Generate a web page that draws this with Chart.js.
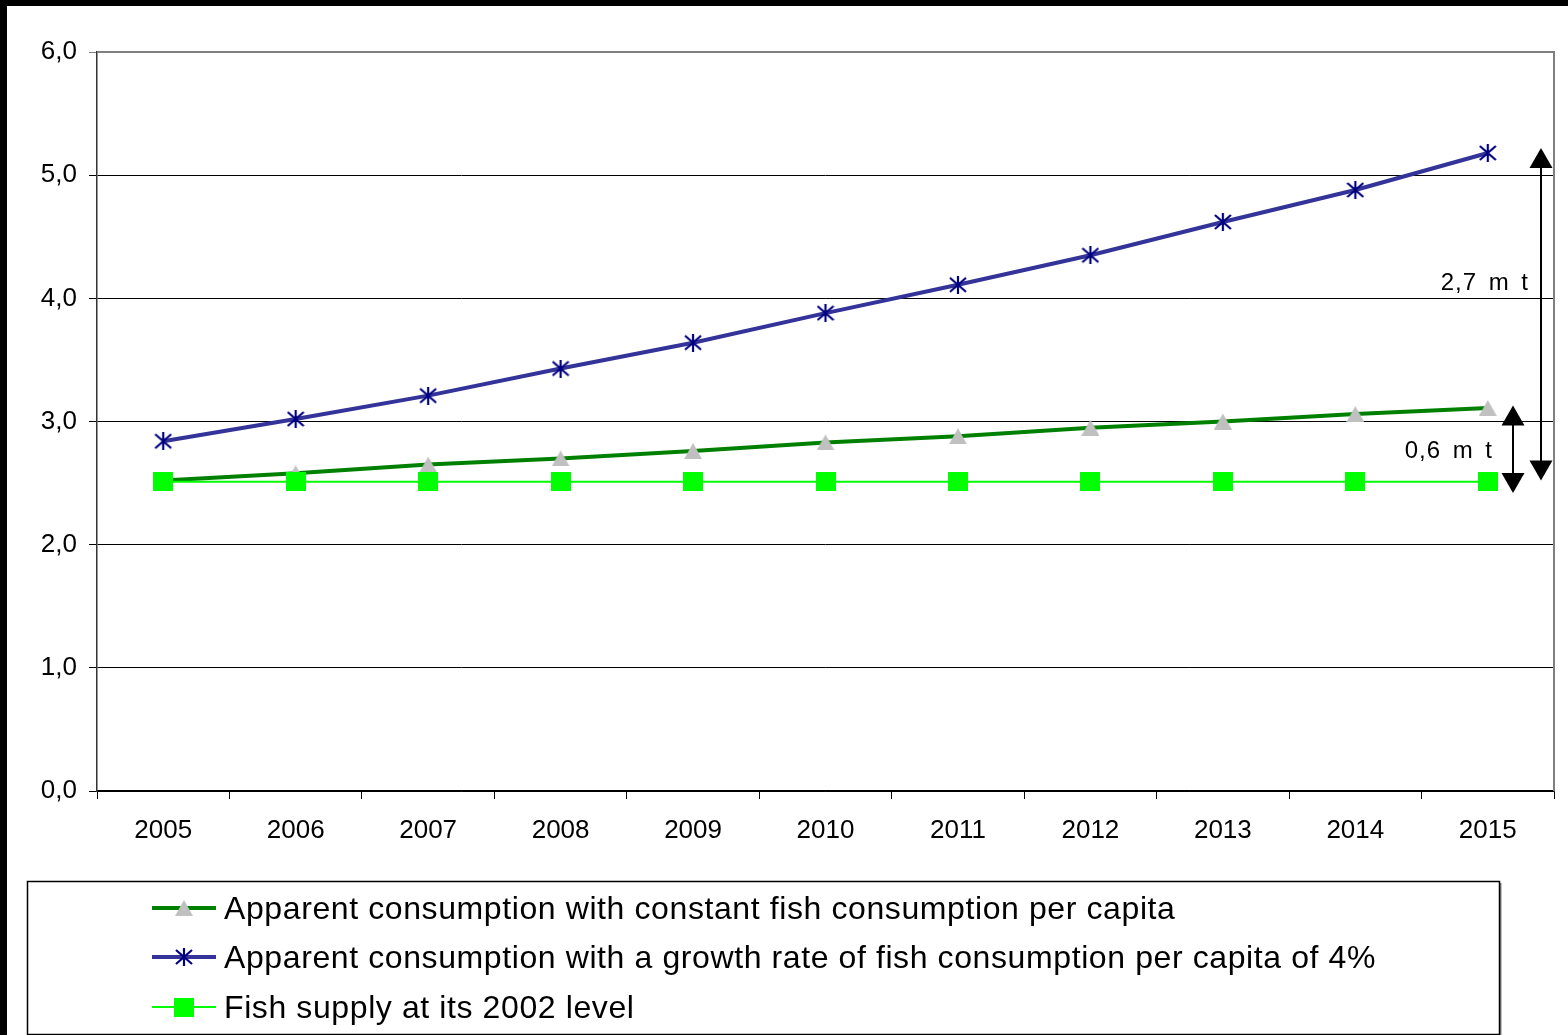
<!DOCTYPE html>
<html>
<head>
<meta charset="utf-8">
<script src="https://cdn.jsdelivr.net/npm/chart.js@4/dist/chart.umd.min.js"></script>
<style>
  html, body { margin: 0; padding: 0; background: #fff; }
  #wrap { width: 1568px; height: 1035px; box-sizing: border-box; border-left: 7px solid #000; border-top: 6px solid #000; background: #fff; overflow: hidden; }
  canvas { display: block; }
</style>
</head>
<body>
<div id="wrap"><canvas id="c" width="1561" height="1029"></canvas></div>
<script>
// ---- data ----
const years = ['2005','2006','2007','2008','2009','2010','2011','2012','2013','2014','2015'];
const constantPerCapita = [2.52, 2.58, 2.65, 2.70, 2.76, 2.83, 2.88, 2.95, 3.00, 3.06, 3.11];
const growth4pct = [2.84, 3.02, 3.21, 3.43, 3.64, 3.88, 4.11, 4.35, 4.62, 4.88, 5.18];
const supply2002 = [2.51, 2.51, 2.51, 2.51, 2.51, 2.51, 2.51, 2.51, 2.51, 2.51, 2.51];
const seriesLabels = [
  'Apparent consumption with constant fish consumption per capita',
  'Apparent consumption with a growth rate of fish consumption per capita of 4%',
  'Fish supply at its 2002 level'
];
const yTicks = [0, 1, 2, 3, 4, 5, 6];
// annotations: [label, top value, bottom value, label value]
const gapBig = ['2,7 m t', 5.22, 2.52, 4.12];
const gapSmall = ['0,6 m t', 3.13, 2.42, 2.76];

const FONT = '"Liberation Sans", Arial, sans-serif';

// ---- marker images ----
function makeTriangle() {
  const c = document.createElement('canvas'); c.width = 18; c.height = 16;
  const x = c.getContext('2d');
  x.fillStyle = '#C0C0C0';
  x.beginPath(); x.moveTo(9, 0); x.lineTo(18, 16); x.lineTo(0, 16); x.closePath(); x.fill();
  return c;
}
function makeAsterisk() {
  const c = document.createElement('canvas'); c.width = 18; c.height = 18;
  const x = c.getContext('2d');
  x.strokeStyle = '#000080'; x.lineWidth = 2.2;
  x.beginPath();
  x.moveTo(9, 0); x.lineTo(9, 18);
  x.moveTo(1, 2); x.lineTo(17, 16);
  x.moveTo(17, 2); x.lineTo(1, 16);
  x.stroke();
  return c;
}
function makeSquare() {
  const c = document.createElement('canvas'); c.width = 20; c.height = 19;
  const x = c.getContext('2d');
  x.fillStyle = '#00FF00'; x.fillRect(0, 0, 20, 19);
  return c;
}
const triImg = makeTriangle(), starImg = makeAsterisk(), sqImg = makeSquare();

const styles = [
  { color: '#008000', width: 4, img: triImg },
  { color: '#333399', width: 4, img: starImg },
  { color: '#00FF00', width: 2, img: sqImg }
];

function drawDoubleArrow(ctx, x, yTop, yBot) {
  const hw = 11.5, hh = 20;
  ctx.save();
  ctx.strokeStyle = '#000'; ctx.fillStyle = '#000'; ctx.lineWidth = 2;
  ctx.beginPath(); ctx.moveTo(x, yTop + hh - 2); ctx.lineTo(x, yBot - hh + 2); ctx.stroke();
  ctx.beginPath(); ctx.moveTo(x, yTop); ctx.lineTo(x + hw, yTop + hh); ctx.lineTo(x - hw, yTop + hh); ctx.closePath(); ctx.fill();
  ctx.beginPath(); ctx.moveTo(x, yBot); ctx.lineTo(x + hw, yBot - hh); ctx.lineTo(x - hw, yBot - hh); ctx.closePath(); ctx.fill();
  ctx.restore();
}

const extras = {
  id: 'extras',
  afterDraw(chart) {
    const ctx = chart.ctx, a = chart.chartArea, ys = chart.scales.y;
    // gray frame on top and right
    ctx.save();
    ctx.strokeStyle = '#808080'; ctx.lineWidth = 2;
    ctx.beginPath(); ctx.moveTo(a.left, a.top); ctx.lineTo(a.right, a.top); ctx.lineTo(a.right, a.bottom); ctx.stroke();
    ctx.restore();

    // gap arrows
    drawDoubleArrow(ctx, a.right - 13, ys.getPixelForValue(gapBig[1]), ys.getPixelForValue(gapBig[2]));
    drawDoubleArrow(ctx, a.right - 41, ys.getPixelForValue(gapSmall[1]), ys.getPixelForValue(gapSmall[2]));
    ctx.save();
    ctx.fillStyle = '#000'; ctx.font = '24px ' + FONT; ctx.textAlign = 'right'; ctx.textBaseline = 'middle';
    try { ctx.letterSpacing = '1px'; ctx.wordSpacing = '4px'; } catch (e) {}
    ctx.fillText(gapBig[0], a.right - 25, ys.getPixelForValue(gapBig[3]));
    ctx.fillText(gapSmall[0], a.right - 61, ys.getPixelForValue(gapSmall[3]));
    ctx.restore();

    // legend box
    const bx = 20, by = 875, bw = 1472, bh = 153;
    ctx.save();
    ctx.fillStyle = '#fff'; ctx.fillRect(bx, by, bw, bh);
    ctx.strokeStyle = '#808080'; ctx.lineWidth = 2;
    ctx.beginPath(); ctx.moveTo(bx + bw + 1.5, by + 2); ctx.lineTo(bx + bw + 1.5, by + bh + 1); ctx.stroke();
    ctx.strokeStyle = '#000'; ctx.lineWidth = 1.5;
    ctx.strokeRect(bx + 0.5, by + 0.5, bw, bh);
    const rows = [by + 27, by + 76, by + 126];
    ctx.font = '32px ' + FONT; ctx.textBaseline = 'middle'; ctx.textAlign = 'left'; ctx.fillStyle = '#000';
    try { ctx.letterSpacing = '0.6px'; } catch (e) {}
    chart.data.datasets.forEach((ds) => {
      const li = ds.legendIndex, y = rows[li], st = styles[li];
      ctx.strokeStyle = st.color; ctx.lineWidth = st.width;
      ctx.beginPath(); ctx.moveTo(145, y); ctx.lineTo(209, y); ctx.stroke();
      ctx.drawImage(st.img, 177 - st.img.width / 2, y - st.img.height / 2);
      ctx.fillStyle = '#000';
      ctx.fillText(ds.label, 217, y + 2);
    });
    ctx.restore();
  }
};

const mk = (li, data, order) => ({
  label: seriesLabels[li],
  legendIndex: li,
  data: data,
  borderColor: styles[li].color,
  borderWidth: styles[li].width,
  pointStyle: styles[li].img,
  pointRadius: 10,
  pointHoverRadius: 10,
  tension: 0,
  fill: false,
  order: order
});

new Chart(document.getElementById('c'), {
  type: 'line',
  data: {
    labels: years,
    datasets: [
      mk(0, constantPerCapita, 2),
      mk(1, growth4pct, 1),
      mk(2, supply2002, 0)
    ]
  },
  options: {
    responsive: false,
    animation: false,
    devicePixelRatio: 1,
    layout: { padding: { left: 0, top: 46, right: 14, bottom: 184 } },
    plugins: { legend: { display: false }, tooltip: { enabled: false } },
    scales: {
      x: {
        type: 'category',
        offset: true,
        afterFit: s => { s.height = 60; },
        grid: { offset: true, drawOnChartArea: false, drawTicks: true, tickLength: 8, color: '#000', lineWidth: 1 },
        border: { color: '#000', width: 1.5 },
        ticks: { color: '#000', font: { family: FONT, size: 26 }, padding: 16, maxRotation: 0, autoSkip: false }
      },
      y: {
        min: 0, max: 6,
        afterFit: s => { s.width = 90; },
        afterBuildTicks: s => { s.ticks = yTicks.map(v => ({ value: v })); },
        grid: { color: ctx => (ctx.tick && ctx.tick.value === 6) ? '#808080' : '#000', lineWidth: 1, tickLength: 8, drawTicks: true },
        border: { color: '#333', width: 1.5 },
        ticks: { color: '#000', font: { family: FONT, size: 26 }, padding: 12,
          callback: v => Number(v).toFixed(1).replace('.', ',') }
      }
    }
  },
  plugins: [extras]
});
</script>
</body>
</html>
